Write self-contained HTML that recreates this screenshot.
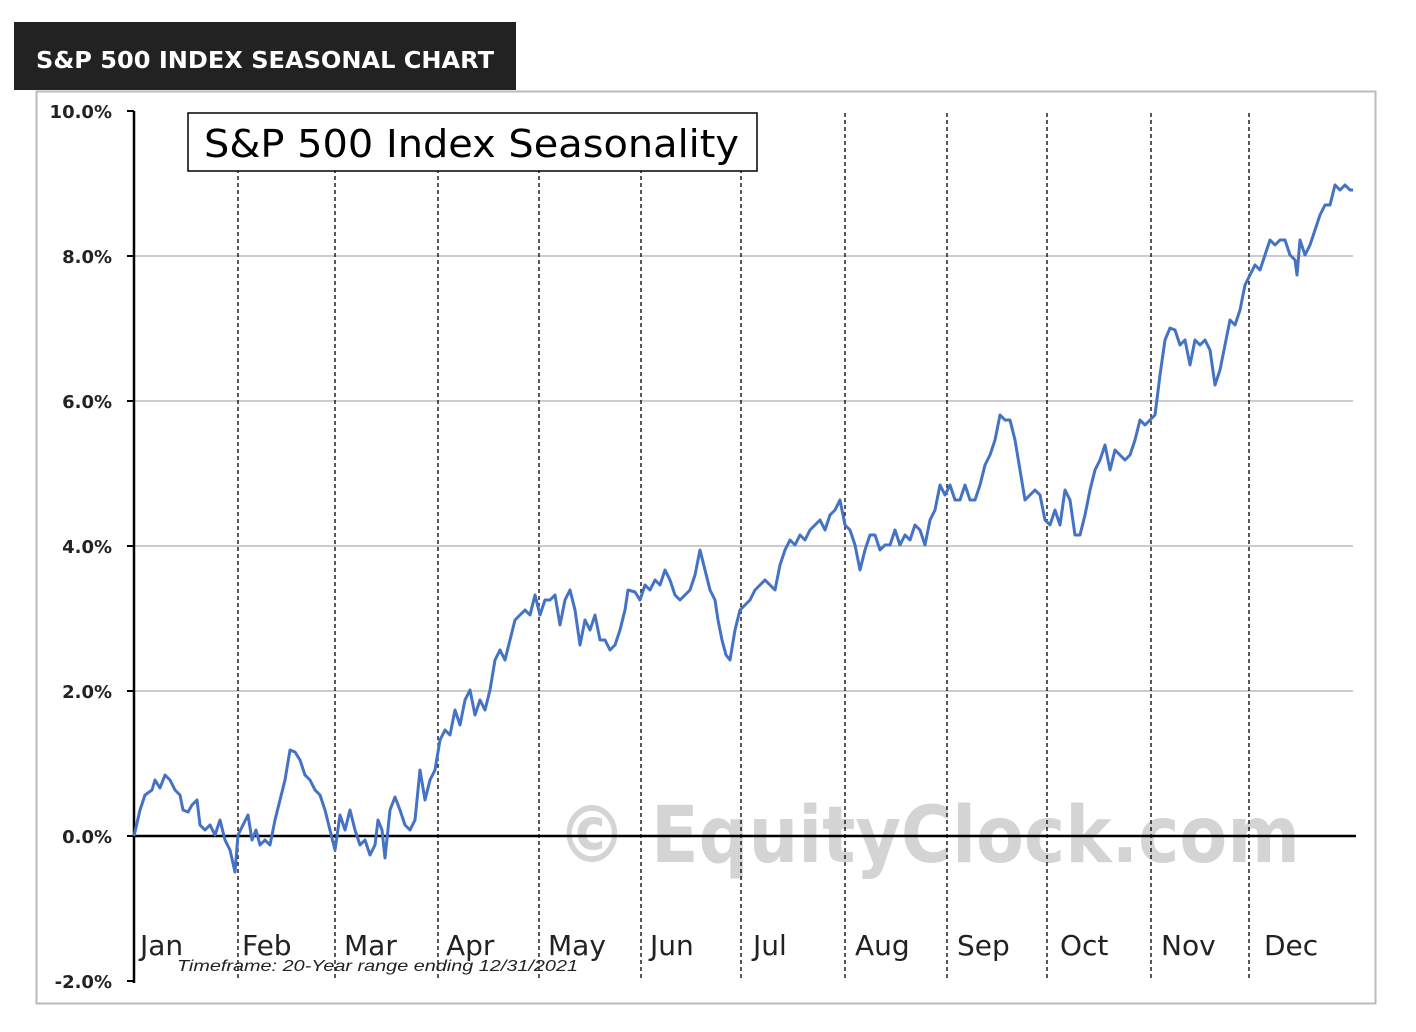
<!DOCTYPE html>
<html><head><meta charset="utf-8"><style>
html,body{margin:0;padding:0;background:#fff;width:1416px;height:1032px;overflow:hidden}
</style></head><body>
<svg width="1416" height="1032" xmlns="http://www.w3.org/2000/svg" font-family="Liberation Sans, DejaVu Sans, sans-serif">
<rect x="14" y="22" width="502" height="68" fill="#222"/>
<text x="36" y="68" fill="#fff" font-size="23" font-weight="bold" font-family="DejaVu Sans, sans-serif" textLength="458" lengthAdjust="spacingAndGlyphs">S&amp;P 500 INDEX SEASONAL CHART</text>
<rect x="36.5" y="91.5" width="1339" height="912" fill="#fff" stroke="#bbb" stroke-width="2"/>
<g stroke="#999" stroke-width="1">
<line x1="134" y1="256" x2="1353" y2="256"/><line x1="134" y1="401" x2="1353" y2="401"/>
<line x1="134" y1="546" x2="1353" y2="546"/><line x1="134" y1="691" x2="1353" y2="691"/>
</g>
<text x="557" y="862" font-size="78" font-weight="bold" fill="#d4d4d4" font-family="DejaVu Sans, sans-serif" textLength="743" lengthAdjust="spacingAndGlyphs">© EquityClock.com</text>
<g stroke="#000" stroke-width="1.3" stroke-dasharray="4,3">
<line x1="238" y1="113" x2="238" y2="981"/><line x1="335" y1="113" x2="335" y2="981"/>
<line x1="438" y1="113" x2="438" y2="981"/><line x1="539" y1="113" x2="539" y2="981"/>
<line x1="641" y1="113" x2="641" y2="981"/><line x1="741" y1="113" x2="741" y2="981"/>
<line x1="845" y1="113" x2="845" y2="981"/><line x1="947" y1="113" x2="947" y2="981"/>
<line x1="1047" y1="113" x2="1047" y2="981"/><line x1="1151" y1="113" x2="1151" y2="981"/>
<line x1="1249" y1="113" x2="1249" y2="981"/>
</g>
<line x1="134" y1="111" x2="134" y2="983" stroke="#000" stroke-width="2.5"/>
<line x1="134" y1="836" x2="1356" y2="836" stroke="#000" stroke-width="2.5"/>
<g stroke="#000" stroke-width="2"><line x1="127" y1="111" x2="134" y2="111"/><line x1="127" y1="256" x2="134" y2="256"/><line x1="127" y1="401" x2="134" y2="401"/><line x1="127" y1="546" x2="134" y2="546"/><line x1="127" y1="691" x2="134" y2="691"/><line x1="127" y1="836" x2="134" y2="836"/><line x1="127" y1="981" x2="134" y2="981"/></g>
<g font-size="18" font-weight="bold" text-anchor="end" fill="#222" font-family="DejaVu Sans, sans-serif">
<text x="112" y="118">10.0%</text><text x="112" y="263">8.0%</text><text x="112" y="408">6.0%</text>
<text x="112" y="553">4.0%</text><text x="112" y="698">2.0%</text><text x="112" y="843">0.0%</text><text x="112" y="988">-2.0%</text>
</g>
<rect x="188" y="113" width="569" height="58" fill="#fff" stroke="#000" stroke-width="1.5"/>
<text x="204" y="157" font-size="38" fill="#000" font-family="DejaVu Sans, sans-serif" textLength="535" lengthAdjust="spacingAndGlyphs">S&amp;P 500 Index Seasonality</text>
<polyline fill="none" stroke="#4472C4" stroke-width="3" stroke-linejoin="round" points="134,836 140,810 145,795 152,790 155,780 160,788 165,775 170,780 175,790 180,795 183,810 188,812 192,805 197,800 200,825 205,830 210,825 215,835 220,820 225,840 230,850 235,872 238,835 243,825 248,815 252,840 256,830 260,845 265,840 270,845 275,820 280,800 285,780 290,750 295,752 300,760 305,775 310,780 315,790 320,795 325,810 330,830 335,850 340,815 345,830 350,810 355,830 360,845 365,840 370,855 375,845 378,820 382,830 385,858 390,810 395,797 400,810 405,825 410,830 415,820 420,770 425,800 430,780 435,770 440,740 445,730 450,735 455,710 460,725 465,700 470,690 475,715 480,700 485,710 490,690 495,660 500,650 505,660 510,640 515,620 520,615 525,610 530,615 535,595 540,615 545,600 550,600 555,595 560,625 565,600 570,590 575,610 580,645 585,620 590,630 595,615 600,640 605,640 610,650 615,645 620,630 625,610 628,590 635,592 640,600 645,585 650,590 655,580 660,585 665,570 670,580 675,595 680,600 690,590 695,575 700,550 705,570 710,590 715,600 718,620 722,640 726,655 730,660 735,630 740,610 745,605 750,600 755,590 760,585 765,580 770,585 775,590 780,565 785,550 790,540 795,545 800,535 805,540 810,530 815,525 820,520 825,530 830,515 835,510 840,500 845,525 850,530 855,545 860,570 865,550 870,535 875,535 880,550 885,545 890,545 895,530 900,545 905,535 910,540 915,525 920,530 925,545 930,520 935,510 940,485 945,495 950,485 955,500 960,500 965,485 970,500 975,500 980,485 985,465 990,455 995,440 1000,415 1005,420 1010,420 1015,440 1020,470 1025,500 1030,495 1035,490 1040,495 1045,520 1050,525 1055,510 1060,525 1065,490 1070,500 1075,535 1080,535 1085,515 1090,490 1095,470 1100,460 1105,445 1110,470 1115,450 1120,455 1125,460 1130,455 1135,440 1140,420 1145,425 1150,420 1155,415 1160,375 1165,340 1170,328 1175,330 1180,345 1185,340 1190,365 1195,340 1200,345 1205,340 1210,350 1215,385 1220,370 1225,345 1230,320 1235,325 1240,310 1245,285 1250,275 1255,265 1260,270 1265,255 1270,240 1275,245 1280,240 1285,240 1290,255 1295,260 1297,275 1300,240 1305,255 1310,245 1315,230 1320,215 1325,205 1330,205 1335,185 1340,190 1345,185 1350,190 1353,190"/>
<g font-size="28" fill="#222" font-family="DejaVu Sans, sans-serif">
<text x="140" y="955">Jan</text><text x="242" y="955">Feb</text><text x="344" y="955">Mar</text>
<text x="446" y="955">Apr</text><text x="548" y="955">May</text><text x="650" y="955">Jun</text>
<text x="753" y="955">Jul</text><text x="855" y="955">Aug</text><text x="957" y="955">Sep</text>
<text x="1060" y="955">Oct</text><text x="1161" y="955">Nov</text><text x="1264" y="955">Dec</text>
</g>
<text x="177" y="971" font-size="16" font-style="italic" fill="#222" textLength="401" lengthAdjust="spacingAndGlyphs">Timeframe:  20-Year range ending 12/31/2021</text>
</svg>
</body></html>
